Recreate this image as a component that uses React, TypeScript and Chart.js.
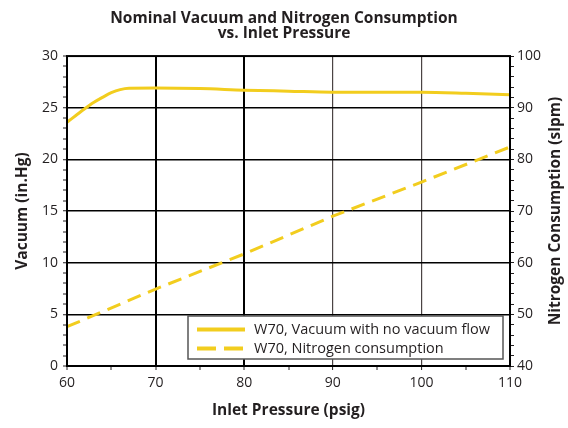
import React, { useEffect, useRef } from 'react';
import { Chart, registerables } from 'chart.js';

Chart.register(...registerables);

// ---- Data ----
const titleLines = ['Nominal Vacuum and Nitrogen Consumption', 'vs. Inlet Pressure'];
const xTitle = 'Inlet Pressure (psig)';
const yTitle = 'Vacuum (in.Hg)';
const y1Title = 'Nitrogen Consumption (slpm)';

const vacuumLabel = 'W70, Vacuum with no vacuum flow';
const vacuumX = [60, 61, 62, 63, 64, 65, 66, 67, 70, 75, 80, 85, 90, 95, 100, 105, 110];
const vacuumY = [23.6, 24.25, 24.9, 25.5, 26.0, 26.45, 26.75, 26.88, 26.9, 26.85, 26.7, 26.6, 26.5, 26.5, 26.5, 26.4, 26.25];

const nitrogenLabel = 'W70, Nitrogen consumption';
const nitrogenX = [60, 70, 80, 90, 100, 110];
const nitrogenY = [47.6, 54.9, 61.7, 69.0, 75.6, 82.4];

const xRange = [60, 110];
const yRange = [0, 30];
const y1Range = [40, 100];

const YELLOW = '#f2cd1e';
const TEXT = '#231f20';
const FONT = "'Open Sans', 'Noto Sans', sans-serif";

const framePlugin = {
  id: 'frame',
  afterDatasetsDraw(chart: any) {
    const { ctx, chartArea: a } = chart;
    ctx.save();
    ctx.strokeStyle = '#000';
    ctx.lineWidth = 2;
    ctx.strokeRect(a.left, a.top, a.right - a.left, a.bottom - a.top);
    ctx.restore();
  },
};

const legendPlugin = {
  id: 'boxLegend',
  afterDraw(chart: any) {
    const { ctx, chartArea: a } = chart;
    const w = 315;
    const h = 43;
    const left = a.right - 7 - w;
    const top = a.bottom - 7 - h;
    ctx.save();
    ctx.fillStyle = '#fff';
    ctx.fillRect(left, top, w, h);
    ctx.strokeStyle = '#555';
    ctx.lineWidth = 1.5;
    ctx.strokeRect(left, top, w, h);
    const rows = [top + 13.5, top + 32.5];
    chart.data.datasets.forEach((ds: any, i: number) => {
      const y = rows[i];
      ctx.strokeStyle = ds.borderColor;
      ctx.lineWidth = 4;
      ctx.setLineDash(ds.borderDash ? [19, 8] : []);
      ctx.beginPath();
      ctx.moveTo(left + 9, y);
      ctx.lineTo(left + 57, y);
      ctx.stroke();
      ctx.setLineDash([]);
      ctx.fillStyle = TEXT;
      ctx.font = `14.5px ${FONT}`;
      ctx.textAlign = 'left';
      ctx.textBaseline = 'middle';
      ctx.fillText(ds.label, left + 66, y);
    });
    ctx.restore();
  },
};

const rightTitlePlugin = {
  id: 'rightTitle',
  afterDraw(chart: any) {
    const { ctx, chartArea: a } = chart;
    ctx.save();
    ctx.translate(556, (a.top + a.bottom) / 2);
    ctx.rotate(-Math.PI / 2);
    ctx.font = `bold 15.5px ${FONT}`;
    ctx.fillStyle = TEXT;
    ctx.textAlign = 'center';
    ctx.textBaseline = 'middle';
    ctx.fillText(y1Title, 0, 0);
    ctx.restore();
  },
};

export default function App() {
  const ref = useRef<HTMLCanvasElement>(null);

  useEffect(() => {
    document.body.style.margin = '0';
    const canvas = ref.current;
    if (!canvas) return;
    const chart = new Chart(canvas, {
      type: 'line',
      data: {
        datasets: [
          {
            label: vacuumLabel,
            data: vacuumX.map((x, i) => ({ x, y: vacuumY[i] })),
            yAxisID: 'y',
            borderColor: YELLOW,
            borderWidth: 3,
            pointRadius: 0,
            cubicInterpolationMode: 'monotone',
            fill: false,
          },
          {
            label: nitrogenLabel,
            data: nitrogenX.map((x, i) => ({ x, y: nitrogenY[i] })),
            yAxisID: 'y1',
            borderColor: YELLOW,
            borderWidth: 3,
            borderDash: [14, 8],
            pointRadius: 0,
            tension: 0,
            fill: false,
          },
        ],
      },
      options: {
        responsive: false,
        animation: false,
        layout: { padding: 0 },
        plugins: {
          legend: { display: false },
          tooltip: { enabled: false },
          title: {
            display: true,
            text: titleLines,
            color: TEXT,
            font: { family: FONT, size: 15.5, weight: 'bold', lineHeight: 0.97 },
            padding: { top: 11, bottom: 15 },
          },
        },
        scales: {
          x: {
            type: 'linear',
            min: xRange[0],
            max: xRange[1],
            afterFit: (s: any) => { s.height = 62; },
            border: { display: false },
            grid: {
              color: (c: any) => {
                const v = c.tick?.value;
                if (v === 70 || v === 80) return '#000';
                if (v === 90 || v === 100) return '#4a4444';
                return 'rgba(0,0,0,0)';
              },
              lineWidth: (c: any) => {
                const v = c.tick?.value;
                if (v === 70 || v === 80) return 2;
                if (v === 90 || v === 100) return 1.2;
                return 0;
              },
              tickColor: TEXT,
              tickWidth: 1,
              tickLength: 4,
            },
            ticks: {
              stepSize: 5,
              autoSkip: false,
              maxRotation: 0,
              padding: 5,
              color: TEXT,
              font: { family: FONT, size: 14 },
              callback: (v: any) => (Number(v) % 10 === 0 ? String(v) : ''),
            },
            title: {
              display: true,
              text: xTitle,
              color: TEXT,
              font: { family: FONT, size: 15.5, weight: 'bold', lineHeight: 1.2 },
              padding: { top: 0, bottom: 8 },
            },
          },
          y: {
            type: 'linear',
            position: 'left',
            min: yRange[0],
            max: yRange[1],
            afterFit: (s: any) => { s.width = 67; },
            border: { display: false },
            grid: {
              color: (c: any) => {
                const v = c.tick?.value;
                return v % 5 === 0 && v > 0 && v < 30 ? '#000' : 'rgba(0,0,0,0)';
              },
              lineWidth: (c: any) => {
                const v = c.tick?.value;
                return v % 5 === 0 && v > 0 && v < 30 ? 1.5 : 0;
              },
              tickColor: TEXT,
              tickWidth: 1,
              tickLength: 4,
            },
            ticks: {
              stepSize: 1,
              autoSkip: false,
              padding: 5,
              color: TEXT,
              font: { family: FONT, size: 14 },
              callback: (v: any) => (Number(v) % 5 === 0 ? String(v) : ''),
            },
            title: {
              display: true,
              text: yTitle,
              color: TEXT,
              font: { family: FONT, size: 15.5, weight: 'bold', lineHeight: 1.2 },
              padding: { top: 13, bottom: 0 },
            },
          },
          y1: {
            type: 'linear',
            position: 'right',
            min: y1Range[0],
            max: y1Range[1],
            afterFit: (s: any) => { s.width = 58; },
            border: { display: false },
            grid: {
              drawOnChartArea: false,
              tickColor: TEXT,
              tickWidth: 1,
              tickLength: 4,
            },
            ticks: {
              stepSize: 2,
              autoSkip: false,
              padding: 3,
              color: TEXT,
              font: { family: FONT, size: 14 },
              callback: (v: any) => (Number(v) % 10 === 0 ? String(v) : ''),
            },
          },
        },
      },
      plugins: [framePlugin, legendPlugin, rightTitlePlugin],
    } as any);
    return () => chart.destroy();
  }, []);

  return <canvas ref={ref} width={568} height={428} style={{ display: 'block' }} />;
}
